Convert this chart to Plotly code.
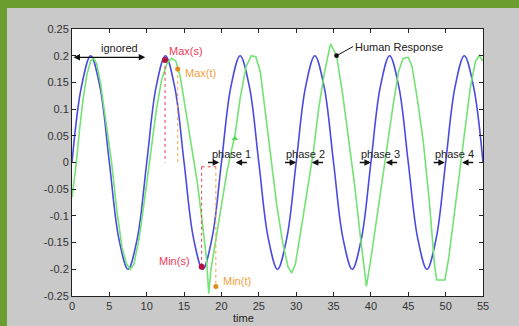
import plotly.graph_objects as go

# ---------------- data ----------------
stim_time = [0, 1.25, 2.5, 3.75, 5, 6.25, 7.5, 8.75, 10, 11.25, 12.5, 13.75, 15, 16.25,
             17.5, 18.75, 20, 21.25, 22.5, 23.75, 25, 26.25, 27.5, 28.75, 30, 31.25, 32.5,
             33.75, 35, 36.25, 37.5, 38.75, 40, 41.25, 42.5, 43.75, 45, 46.25, 47.5, 48.75,
             50, 51.25, 52.5, 53.75, 55]
stim_value = [0, 0.141, 0.2, 0.141, 0, -0.141, -0.2, -0.141,
              0, 0.141, 0.2, 0.141, 0, -0.141, -0.2, -0.141,
              0, 0.141, 0.2, 0.141, 0, -0.141, -0.2, -0.141,
              0, 0.141, 0.2, 0.141, 0, -0.141, -0.2, -0.141,
              0, 0.141, 0.2, 0.141, 0, -0.141, -0.2, -0.141,
              0, 0.141, 0.2, 0.141, 0]

resp_time = [0, 0.5, 1.0, 1.5, 2.0, 2.5, 2.9, 3.3, 3.8, 4.5, 5.3, 6.0, 6.7, 7.3, 7.8, 8.3,
             9.0, 9.8, 10.5, 11.3, 12.0, 12.7, 13.3, 13.9, 14.5, 15.2, 16.0, 16.8, 17.5,
             18.0, 18.3, 18.6, 19.3, 20.0, 20.7, 21.3, 21.8, 22.5, 23.3, 24.0, 24.6, 25.2,
             26.0, 26.6, 27.4, 28.2, 28.9, 29.4, 29.9, 30.6, 31.5, 32.3, 33.0, 33.8, 34.6,
             35.4, 36.2, 37.0, 37.8, 38.6, 39.4, 40.0, 40.8, 41.5, 42.2, 43.0, 43.7, 44.3,
             45.0, 45.5, 46.2, 47.0, 47.8, 48.5, 48.8, 49.9, 50.4, 51.2, 52.0, 52.7, 53.3,
             54.0, 54.5, 55.0]
resp_value = [-0.065, -0.01, 0.06, 0.12, 0.165, 0.19, 0.195, 0.185, 0.15, 0.08, 0.0, -0.09,
              -0.16, -0.19, -0.2, -0.19, -0.14, -0.06, 0.02, 0.10, 0.155, 0.185, 0.195,
              0.19, 0.16, 0.10, 0.03, -0.04, -0.12, -0.18, -0.245, -0.2, -0.14, -0.08,
              -0.02, 0.02, 0.05, 0.12, 0.18, 0.2, 0.198, 0.17, 0.08, 0.01, -0.08, -0.15,
              -0.195, -0.207, -0.19, -0.13, -0.05, 0.02, 0.10, 0.17, 0.222, 0.2, 0.13,
              0.05, -0.04, -0.14, -0.232, -0.18, -0.10, -0.03, 0.03, 0.11, 0.17, 0.195,
              0.197, 0.18, 0.12, 0.04, -0.07, -0.19, -0.22, -0.22, -0.18, -0.09, 0.0,
              0.08, 0.14, 0.19, 0.2, 0.19]

x_tick_vals = [0, 5, 10, 15, 20, 25, 30, 35, 40, 45, 50, 55]
x_tick_text = ["0", "5", "10", "15", "20", "25", "30", "35", "40", "45", "50", "55"]
y_tick_vals = [-0.25, -0.2, -0.15, -0.1, -0.05, 0, 0.05, 0.1, 0.15, 0.2, 0.25]
y_tick_text = ["-0.25", "-0.2", "-0.15", "-0.1", "-0.05", "0", "0.05", "0.1", "0.15", "0.2", "0.25"]

max_s = [12.45, 0.192]
max_t = [14.15, 0.175]
min_s = [17.35, -0.195]
min_t = [19.25, -0.232]

phase_labels = ["phase 1", "phase 2", "phase 3", "phase 4"]
phase_label_time = [21.3, 31.3, 41.3, 51.2]
phase_stim_cross = [19.7, 30.0, 40.0, 49.9]
phase_resp_cross = [21.9, 32.1, 42.0, 52.2]

ignored_span = [0, 9.8]
human_point = [35.4, 0.2]

# ---------------- styles ----------------
GREEN_BORDER = "#6b9e2e"
PANEL = "#c9c9c9"
BLUE = "#4a4ae2"
LGREEN = "#74e274"
RED = "#ee3a58"
DARKRED = "#b0163e"
ORANGE = "#f2a040"
DORANGE = "#e08a20"
FONT = "Liberation Sans, Arial, sans-serif"

fig = go.Figure()

fig.add_trace(go.Scatter(x=stim_time, y=stim_value, mode="lines",
                         line=dict(color=BLUE, width=1.6, shape="spline", smoothing=1.0),
                         showlegend=False, hoverinfo="skip"))
fig.add_trace(go.Scatter(x=resp_time, y=resp_value, mode="lines",
                         line=dict(color=LGREEN, width=1.6),
                         showlegend=False, hoverinfo="skip"))

# dotted guides
fig.add_trace(go.Scatter(x=[max_s[0], max_s[0]], y=[max_s[1], 0], mode="lines",
                         line=dict(color=RED, width=1, dash="dot"), showlegend=False))
fig.add_trace(go.Scatter(x=[max_t[0], max_t[0]], y=[max_t[1], 0], mode="lines",
                         line=dict(color=ORANGE, width=1, dash="dot"), showlegend=False))
fig.add_trace(go.Scatter(x=[min_s[0], min_s[0]], y=[-0.008, min_s[1]], mode="lines",
                         line=dict(color=RED, width=1, dash="dot"), showlegend=False))
fig.add_trace(go.Scatter(x=[min_t[0], min_t[0]], y=[-0.008, min_t[1]], mode="lines",
                         line=dict(color=ORANGE, width=1, dash="dot"), showlegend=False))
fig.add_trace(go.Scatter(x=[min_s[0], min_t[0]], y=[-0.008, -0.008], mode="lines",
                         line=dict(color=RED, width=1, dash="dot"), showlegend=False))

# extreme markers
fig.add_trace(go.Scatter(x=[max_s[0], min_s[0]], y=[max_s[1], min_s[1]], mode="markers",
                         marker=dict(color=DARKRED, size=6, symbol="circle"), showlegend=False))
fig.add_trace(go.Scatter(x=[max_t[0], min_t[0]], y=[max_t[1], min_t[1]], mode="markers",
                         marker=dict(color=DORANGE, size=5, symbol="circle"), showlegend=False))
# small green arrow mark on response
fig.add_trace(go.Scatter(x=[21.8], y=[0.045], mode="markers",
                         marker=dict(color="#55dd55", size=6, symbol="triangle-up"), showlegend=False))

annotations = []
tf = dict(family=FONT, size=11, color="#222222")

annotations.append(dict(x=ignored_span[1], y=0.197, ax=ignored_span[0], ay=0.197,
                        xref="x", yref="y", axref="x", ayref="y", text="",
                        showarrow=True, arrowhead=2, arrowside="end+start",
                        arrowsize=1, arrowwidth=1.3, arrowcolor="#111111"))
annotations.append(dict(x=6.3, y=0.214, xref="x", yref="y", text="ignored",
                        showarrow=False, font=tf))

annotations.append(dict(x=12.7, y=0.208, xref="x", yref="y", text="Max(s)", xanchor="left",
                        showarrow=False, font=dict(family=FONT, size=11, color=RED)))
annotations.append(dict(x=14.85, y=0.168, xref="x", yref="y", text="Max(t)", xanchor="left",
                        showarrow=False, font=dict(family=FONT, size=11, color=ORANGE)))
annotations.append(dict(x=16.0, y=-0.184, xref="x", yref="y", text="Min(s)", xanchor="right",
                        showarrow=False, font=dict(family=FONT, size=11, color=RED)))
annotations.append(dict(x=20.0, y=-0.221, xref="x", yref="y", text="Min(t)", xanchor="left",
                        showarrow=False, font=dict(family=FONT, size=11, color=ORANGE)))

annotations.append(dict(x=human_point[0], y=human_point[1], ax=37.6, ay=0.217,
                        xref="x", yref="y", axref="x", ayref="y",
                        text="Human Response", xanchor="left", yanchor="middle",
                        showarrow=True, arrowhead=6, arrowsize=1.2, arrowwidth=1,
                        arrowcolor="#111111", font=tf))

for lab, lt, sc, rc in zip(phase_labels, phase_label_time, phase_stim_cross, phase_resp_cross):
    annotations.append(dict(x=lt, y=0.016, xref="x", yref="y", text=lab,
                            showarrow=False, font=tf))
    annotations.append(dict(x=sc, y=0, ax=sc - 1.7, ay=0, xref="x", yref="y",
                            axref="x", ayref="y", text="", showarrow=True, arrowhead=2,
                            arrowsize=1, arrowwidth=1.3, arrowcolor="#111111"))
    annotations.append(dict(x=rc, y=0, ax=rc + 1.7, ay=0, xref="x", yref="y",
                            axref="x", ayref="y", text="", showarrow=True, arrowhead=2,
                            arrowsize=1, arrowwidth=1.3, arrowcolor="#111111"))

W, H = 519, 326
L, R, T, B = 72, 36, 29, 30
pw, ph = W - L - R, H - T - B

annotations.append(dict(x=(243.5 - L) / pw, y=(ph + T - 318) / ph, xref="paper", yref="paper",
                        text="time", showarrow=False, font=tf, yanchor="middle"))

# gray panel over the green page, then white plotting area on top of it
shapes = [
    dict(type="rect", xref="paper", yref="paper", x0=(7 - L) / pw, x1=(W - L) / pw + 0.05,
         y0=-B / ph - 0.05, y1=(ph + T - 8) / ph, fillcolor=PANEL,
         line=dict(width=0), layer="below"),
    dict(type="rect", xref="paper", yref="paper", x0=0, x1=1, y0=0, y1=1,
         fillcolor="white", line=dict(width=0), layer="below"),
]

axis_common = dict(showgrid=False, zeroline=False, showline=True, linecolor="#222222",
                   linewidth=1, ticks="inside", ticklen=4, tickcolor="#222222",
                   mirror="ticks", automargin=False,
                   tickfont=dict(family=FONT, size=11, color="#333333"))

fig.update_layout(
    width=W, height=H, autosize=False,
    margin=dict(l=L, r=R, t=T, b=B, pad=0, autoexpand=False),
    paper_bgcolor=GREEN_BORDER, plot_bgcolor="white",
    xaxis=dict(range=[0, 55], tickvals=x_tick_vals, ticktext=x_tick_text, **axis_common),
    yaxis=dict(range=[-0.25, 0.25], tickvals=y_tick_vals, ticktext=y_tick_text, **axis_common),
    annotations=annotations, shapes=shapes, showlegend=False,
)

fig.write_html("out.html", config={"displayModeBar": False},
               post_script="document.body.style.margin='0';document.body.style.overflow='hidden';")
